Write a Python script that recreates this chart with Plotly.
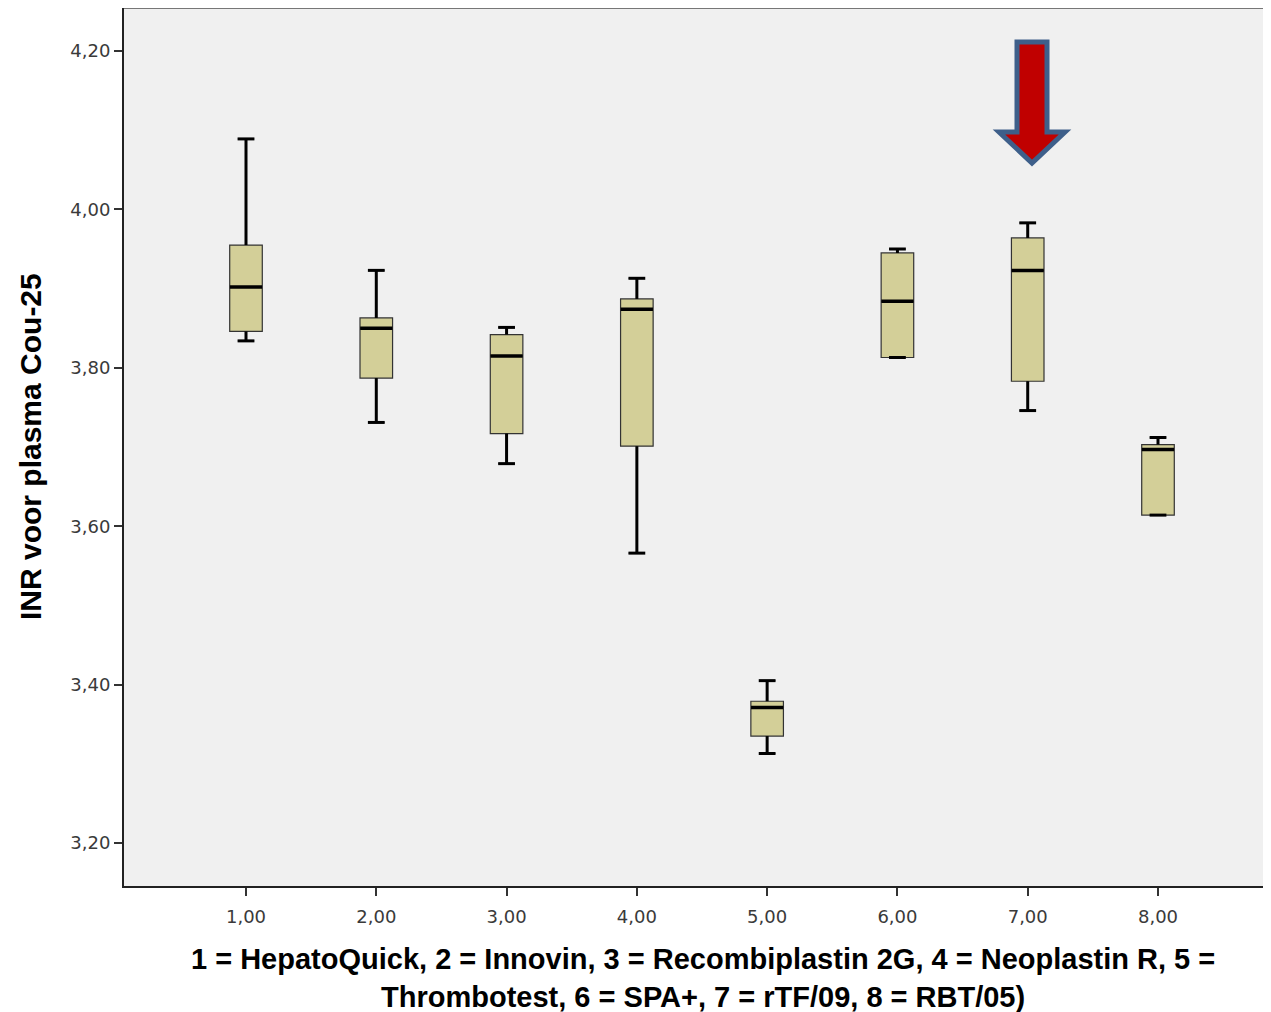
import plotly.graph_objects as go

# ---- data ----
groups = [1, 2, 3, 4, 5, 6, 7, 8]
tick_labels = ["1,00", "2,00", "3,00", "4,00", "5,00", "6,00", "7,00", "8,00"]
lower_whisker = [3.834, 3.731, 3.679, 3.566, 3.313, 3.813, 3.746, 3.614]
q1_vals = [3.846, 3.787, 3.717, 3.701, 3.335, 3.813, 3.783, 3.614]
median_vals = [3.902, 3.850, 3.815, 3.874, 3.371, 3.884, 3.923, 3.697]
q3_vals = [3.955, 3.863, 3.842, 3.887, 3.379, 3.945, 3.964, 3.703]
upper_whisker = [4.089, 3.923, 3.851, 3.913, 3.405, 3.950, 3.983, 3.712]
y_ticks = [3.20, 3.40, 3.60, 3.80, 4.00, 4.20]
y_title = "INR voor plasma Cou-25"
x_title_lines = ["1 = HepatoQuick, 2 = Innovin, 3 = Recombiplastin 2G, 4 = Neoplastin R, 5 =",
                 "Thrombotest, 6 = SPA+, 7 = rTF/09, 8 = RBT/05)"]

BOX_FILL = "#D3CF98"
OFF = 8                      # page body margin
W, H = 1271 - OFF, 1012 - OFF
PLOT_L, PLOT_T, PLOT_B = 124, 8, 886   # page pixel positions of plot frame
ML, MT, MR = PLOT_L - OFF, PLOT_T - OFF, 0
MB = H - (PLOT_B - OFF)
PW, PH = W - ML - MR, H - MT - MB

# x: 1.00 -> page x 246, 8.00 -> page x 1158
x_scale = (1158 - 246) / 7.0
x_lo = 1 - (246 - PLOT_L) / x_scale
x_hi = x_lo + PW / x_scale
# y: 4.20 -> page y 51, 3.20 -> page y 843
y_scale = (843 - 51) / 1.0
y_hi = 4.20 + (51 - PLOT_T) / y_scale
y_lo = y_hi - PH / y_scale

fig = go.Figure()

fig.add_trace(go.Box(
    x=groups, q1=q1_vals, median=median_vals, q3=q3_vals,
    lowerfence=lower_whisker, upperfence=upper_whisker,
    width=0.25, whiskerwidth=0.5, fillcolor=BOX_FILL,
    line=dict(color="#333333", width=1.2), boxpoints=False,
    hoverinfo="skip", showlegend=False,
))

wx, wy = [], []
for g, lo, a, b, hi in zip(groups, lower_whisker, q1_vals, q3_vals, upper_whisker):
    wx += [g, g, None, g, g, None]
    wy += [b, hi, None, lo, a, None]
fig.add_trace(go.Scatter(x=wx, y=wy, mode="lines",
                         line=dict(color="black", width=3),
                         hoverinfo="skip", showlegend=False))
fig.add_trace(go.Scatter(x=groups + groups, y=upper_whisker + lower_whisker, mode="markers",
                         marker=dict(symbol="line-ew", size=12,
                                     line=dict(color="black", width=3)),
                         hoverinfo="skip", showlegend=False))
fig.add_trace(go.Scatter(x=groups, y=median_vals, mode="markers",
                         marker=dict(symbol="line-ew", size=23,
                                     line=dict(color="black", width=3.5)),
                         hoverinfo="skip", showlegend=False))

def px(x):
    return (x - PLOT_L) / PW

def py(y):
    return (PLOT_B - y) / PH

pts = [(1017, 42), (1047, 42), (1047, 132), (1065, 132), (1032, 163),
       (999, 132), (1017, 132)]
path = "M " + " L ".join(f"{px(a):.5f},{py(b):.5f}" for a, b in pts) + " Z"
shapes = [
    dict(type="path", xref="paper", yref="paper", path=path,
         fillcolor="#C00000", line=dict(color="#3E5F8A", width=5), layer="above"),
    dict(type="line", xref="paper", yref="paper", x0=0, x1=1, y0=1, y1=1,
         line=dict(color="#777777", width=2)),
]

TITLE_FONT = dict(size=30, color="black", family="Liberation Sans, Arial, sans-serif")
XTITLE_FONT = dict(size=29, color="black", family="Liberation Sans, Arial, sans-serif")
TICK_FONT = dict(size=18, color="#3a3a3a", family="DejaVu Sans, sans-serif")

fig.update_layout(
    width=W, height=H,
    margin=dict(l=ML, r=MR, t=MT, b=MB, pad=0),
    paper_bgcolor="white", plot_bgcolor="#F0F0F0",
    separators=",.",
    font=dict(family="Liberation Sans, Arial, sans-serif", color="#333333"),
    shapes=shapes,
    xaxis=dict(range=[x_lo, x_hi], tickmode="array", tickvals=groups,
               ticktext=tick_labels, ticks="outside", ticklen=8, tickwidth=2,
               tickcolor="#333333", showline=True, linecolor="#222222", linewidth=2,
               showgrid=False, zeroline=False, tickfont=TICK_FONT,
               ticklabelstandoff=5),
    yaxis=dict(range=[y_lo, y_hi], tickmode="array", tickvals=y_ticks,
               tickformat=".2f", ticks="outside", ticklen=8, tickwidth=2,
               tickcolor="#333333", showline=True, linecolor="#222222", linewidth=2,
               showgrid=False, zeroline=False, tickfont=TICK_FONT),
    annotations=[
        dict(text=f"<b>{y_title}</b>", xref="paper", yref="paper",
             x=px(30), y=py(447), textangle=-90, showarrow=False,
             xanchor="center", yanchor="middle", font=TITLE_FONT),
        dict(text="<b>" + "<br>".join(x_title_lines) + "</b>", xref="paper", yref="paper",
             x=px(703), y=py(978), showarrow=False, xanchor="center", yanchor="middle",
             align="center", font=XTITLE_FONT),
    ],
)

fig.write_html("out.html")
